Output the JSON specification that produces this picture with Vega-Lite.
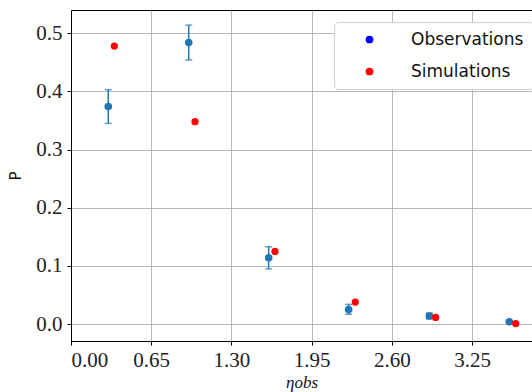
{
  "$schema": "https://vega.github.io/schema/vega-lite/v6.json",
  "width": 461,
  "height": 331,
  "autosize": "none",
  "padding": {"left": 71, "top": 10, "right": 0, "bottom": 51},
  "background": "white",
  "config": {
    "view": {"stroke": "black", "strokeWidth": 1},
    "axis": {
      "grid": true,
      "gridColor": "#b0b0b0",
      "gridWidth": 0.9,
      "domainColor": "black",
      "domainWidth": 1,
      "tickColor": "black",
      "tickSize": 4,
      "labelFont": "Liberation Serif",
      "labelFontSize": 21,
      "labelColor": "#222222",
      "titleColor": "#111111",
      "titleFontWeight": "normal"
    }
  },
  "datasets": {
    "obs": [
      {"eta": 0.302, "p": 0.374, "lo": 0.345, "hi": 0.403, "series": "Observations"},
      {"eta": 0.954, "p": 0.484, "lo": 0.454, "hi": 0.514, "series": "Observations"},
      {"eta": 1.602, "p": 0.114, "lo": 0.095, "hi": 0.133, "series": "Observations"},
      {"eta": 2.25, "p": 0.025, "lo": 0.017, "hi": 0.034, "series": "Observations"},
      {"eta": 2.904, "p": 0.014, "lo": 0.009, "hi": 0.019, "series": "Observations"},
      {"eta": 3.552, "p": 0.004, "lo": 0.002, "hi": 0.006, "series": "Observations"}
    ],
    "sim": [
      {"eta": 0.351, "p": 0.478, "series": "Simulations"},
      {"eta": 1.005, "p": 0.348, "series": "Simulations"},
      {"eta": 1.653, "p": 0.125, "series": "Simulations"},
      {"eta": 2.304, "p": 0.038, "series": "Simulations"},
      {"eta": 2.955, "p": 0.0115, "series": "Simulations"},
      {"eta": 3.604, "p": 0.001, "series": "Simulations"}
    ]
  },
  "encoding": {
    "x": {
      "field": "eta", "type": "quantitative",
      "scale": {"domain": [0, 3.736], "nice": false, "zero": false},
      "axis": {
        "values": [0, 0.65, 1.3, 1.95, 2.6, 3.25],
        "format": ".2f",
        "labelPadding": 4,
        "title": "ηobs",
        "titleFont": "Liberation Serif",
        "titleFontStyle": "italic",
        "titleFontSize": 17,
        "titlePadding": 4
      }
    },
    "y": {
      "field": "p", "type": "quantitative",
      "scale": {"domain": [-0.029, 0.54], "nice": false, "zero": false},
      "axis": {
        "values": [0, 0.1, 0.2, 0.3, 0.4, 0.5],
        "format": ".1f",
        "labelPadding": 5,
        "title": "P",
        "titleFont": "DejaVu Sans",
        "titleFontSize": 15,
        "titlePadding": 12
      }
    }
  },
  "layer": [
    {
      "data": {"name": "obs"},
      "mark": {"type": "rule", "color": "#1f77b4", "strokeWidth": 1.5},
      "encoding": {
        "y": {"field": "lo", "type": "quantitative"},
        "y2": {"field": "hi"}
      }
    },
    {
      "data": {"name": "obs"},
      "mark": {"type": "tick", "orient": "horizontal", "color": "#1f77b4", "size": 7, "thickness": 1.5},
      "encoding": {"y": {"field": "lo", "type": "quantitative"}}
    },
    {
      "data": {"name": "obs"},
      "mark": {"type": "tick", "orient": "horizontal", "color": "#1f77b4", "size": 7, "thickness": 1.5},
      "encoding": {"y": {"field": "hi", "type": "quantitative"}}
    },
    {
      "data": {"name": "obs"},
      "mark": {"type": "circle", "color": "#1f77b4", "size": 58, "opacity": 1}
    },
    {
      "data": {"name": "sim"},
      "mark": {"type": "circle", "color": "red", "size": 52, "opacity": 1}
    },
    {
      "data": {"values": [{"series": "Observations", "eta": 1, "p": 0.2}, {"series": "Simulations", "eta": 1, "p": 0.2}]},
      "mark": {"type": "circle", "opacity": 0, "size": 50},
      "encoding": {
        "color": {
          "field": "series", "type": "nominal",
          "scale": {"domain": ["Observations", "Simulations"], "range": ["blue", "red"]},
          "legend": {
            "title": null,
            "orient": "none",
            "legendX": 263,
            "legendY": 12,
            "symbolOpacity": 1,
            "symbolType": "circle",
            "symbolSize": 60,
            "symbolOffset": 18,
            "labelOffset": 33,
            "labelFont": "DejaVu Sans",
            "labelFontSize": 17,
            "labelColor": "#111111",
            "rowPadding": 14,
            "padding": 9,
            "fillColor": "white",
            "strokeColor": "#d0d0d0",
            "cornerRadius": 4
          }
        }
      }
    }
  ]
}
